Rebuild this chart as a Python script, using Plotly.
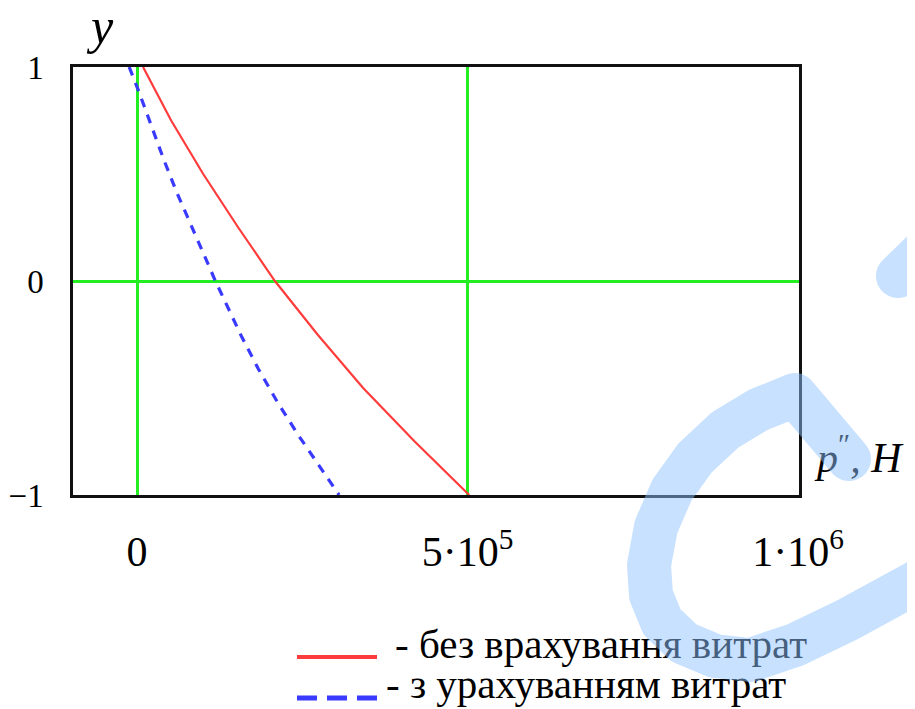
import math
import plotly.graph_objects as go

# ---------------- data ----------------
y_red = [1.0, 0.75, 0.5, 0.25, 0.0, -0.25, -0.5, -0.75, -1.0]
x_red = [9000, 51500, 100000, 153000, 208500, 273000, 342000, 420000, 502500]

y_blue = [1.0, 0.882, 0.726, 0.570, 0.414, 0.258, 0.103, 0.0,
          -0.100, -0.256, -0.411, -0.567, -0.723, -0.879, -1.0]
x_blue = [-12000, 3000, 21500, 40000, 60000, 81500, 104000, 118500,
          133500, 157500, 183500, 212500, 244500, 278500, 305600]

x_ticks = [0, 500000, 1000000]
x_ticktext = ["0", "5·10<sup>5</sup>", "1·10<sup>6</sup>"]
y_ticks = [-1, 0, 1]
y_ticktext = ["−1", "0", "1"]

legend_names = ["- без врахування витрат", "- з урахуванням витрат"]
x_name = "<i>p</i><sup>″</sup><i>, H</i>"
y_name = "<i>y</i>"

X_RANGE = [-97000, 1001500]
Y_RANGE = [-1, 1]

# ---------------- layout geometry (page pixels; page body has 8px margin) ----
OFF = 8
W, H = 915 - 2 * OFF, 709 - OFF
PX0, PY0, PX1, PY1 = 73, 67, 799, 495        # plot box in page pixels

FONT = "Liberation Serif, Times New Roman, serif"
GREEN = "#22ee22"
RED = "#ff3c3c"
BLUE = "#3a3aff"

fig = go.Figure()
fig.add_trace(go.Scatter(x=x_red, y=y_red, mode="lines", name=legend_names[0],
                         line=dict(color=RED, width=2.2), showlegend=False))
fig.add_trace(go.Scatter(x=x_blue, y=y_blue, mode="lines", name=legend_names[1],
                         line=dict(color=BLUE, width=3.2, dash="9px,8px"),
                         showlegend=False))

# page-pixel overlay subplot (x2/y2) for the legend, axis name and watermark
fig.add_trace(go.Scatter(x=[395, 386], y=[648, 688], mode="text", text=legend_names,
                         textposition="middle right", cliponaxis=False,
                         textfont=dict(size=41, family=FONT, color="black"),
                         xaxis="x2", yaxis="y2", showlegend=False, hoverinfo="skip"))
fig.add_trace(go.Scatter(x=[817], y=[461], mode="text", text=[x_name],
                         textposition="middle right", cliponaxis=False,
                         textfont=dict(size=42, family=FONT, color="black"),
                         xaxis="x2", yaxis="y2", showlegend=False, hoverinfo="skip"))

fig.update_layout(
    width=W, height=H, autosize=False,
    margin=dict(l=0, r=0, t=0, b=0, pad=0),
    paper_bgcolor="white", plot_bgcolor="rgba(0,0,0,0)",
    template="none",
    font=dict(family=FONT, color="black"),
    xaxis=dict(domain=[(PX0 - OFF) / W, (PX1 - OFF) / W], anchor="y",
               range=X_RANGE, tickvals=x_ticks, ticktext=x_ticktext,
               showgrid=True, gridcolor=GREEN, gridwidth=3, zeroline=False,
               showline=True, linecolor="#111", linewidth=2.5, mirror=True,
               ticks="", tickfont=dict(size=42, family=FONT),
               ticklabelstandoff=18, automargin=False),
    yaxis=dict(domain=[(H + OFF - PY1) / H, (H + OFF - PY0) / H], anchor="x",
               range=Y_RANGE, tickvals=y_ticks, ticktext=y_ticktext,
               showgrid=True, gridcolor=GREEN, gridwidth=3, zeroline=False,
               showline=True, linecolor="#111", linewidth=2.5, mirror=True,
               ticks="", tickfont=dict(size=33, family=FONT),
               ticklabelstandoff=20, automargin=False),
    xaxis2=dict(domain=[0, 1], anchor="y2", range=[OFF, OFF + W], visible=False,
                fixedrange=True),
    yaxis2=dict(domain=[0, 1], anchor="x2", range=[OFF + H, OFF], visible=False,
                fixedrange=True),
)

# y axis name
fig.add_annotation(x=100, y=26, xref="x2", yref="y2", showarrow=False,
                   text=y_name, font=dict(size=50, family=FONT),
                   xanchor="center", yanchor="middle")

# custom legend samples
shapes = [
    dict(type="line", xref="x2", yref="y2", x0=297, y0=657, x1=377, y1=657,
         line=dict(color=RED, width=4)),
    dict(type="line", xref="x2", yref="y2", x0=297, y0=698, x1=377, y1=698,
         line=dict(color=BLUE, width=5, dash="20px,10px")),
]

# ---------------- watermark (decorative stroke) ----------------
R_W = 22


def signed_area(pts):
    a = 0
    for i in range(len(pts)):
        x1_, y1_ = pts[i]
        x2_, y2_ = pts[(i + 1) % len(pts)]
        a += x1_ * y2_ - x2_ * y1_
    return a / 2


def orient(pts):
    return pts if signed_area(pts) > 0 else pts[::-1]


def poly_path(pts):
    s = ""
    for i, (x, y) in enumerate(pts):
        s += ("M" if i == 0 else "L") + f"{x:.2f},{y:.2f} "
    return s + "Z "


def stroke_path(center):
    s = ""
    for (cx, cy) in center:
        circ = [(cx + R_W * math.cos(2 * math.pi * k / 40),
                 cy + R_W * math.sin(2 * math.pi * k / 40)) for k in range(40)]
        s += poly_path(orient(circ))
    for (ax_, ay_), (bx_, by_) in zip(center[:-1], center[1:]):
        dx, dy = bx_ - ax_, by_ - ay_
        ln = math.hypot(dx, dy)
        nx, ny = -dy / ln * R_W, dx / ln * R_W
        rect = [(ax_ + nx, ay_ + ny), (bx_ + nx, by_ + ny),
                (bx_ - nx, by_ - ny), (ax_ - nx, ay_ - ny)]
        s += poly_path(orient(rect))
    return s


wm_a = [(898, 276), (970, 206)]
wm_b = [(849, 459), (795, 395), (758, 410), (725, 430), (695, 458), (672, 490),
        (656, 527), (649, 565), (651, 595), (662, 622), (684, 643), (715, 656),
        (750, 660), (795, 645), (847, 620), (913, 584), (975, 550)]

wm_path = stroke_path(wm_a) + stroke_path(wm_b)
shapes.append(dict(type="path", xref="x2", yref="y2", path=wm_path,
                   fillcolor="rgba(143,194,255,0.49)", line=dict(width=0),
                   layer="above", fillrule="nonzero"))

fig.update_layout(shapes=shapes)
fig.write_html("out.html")
